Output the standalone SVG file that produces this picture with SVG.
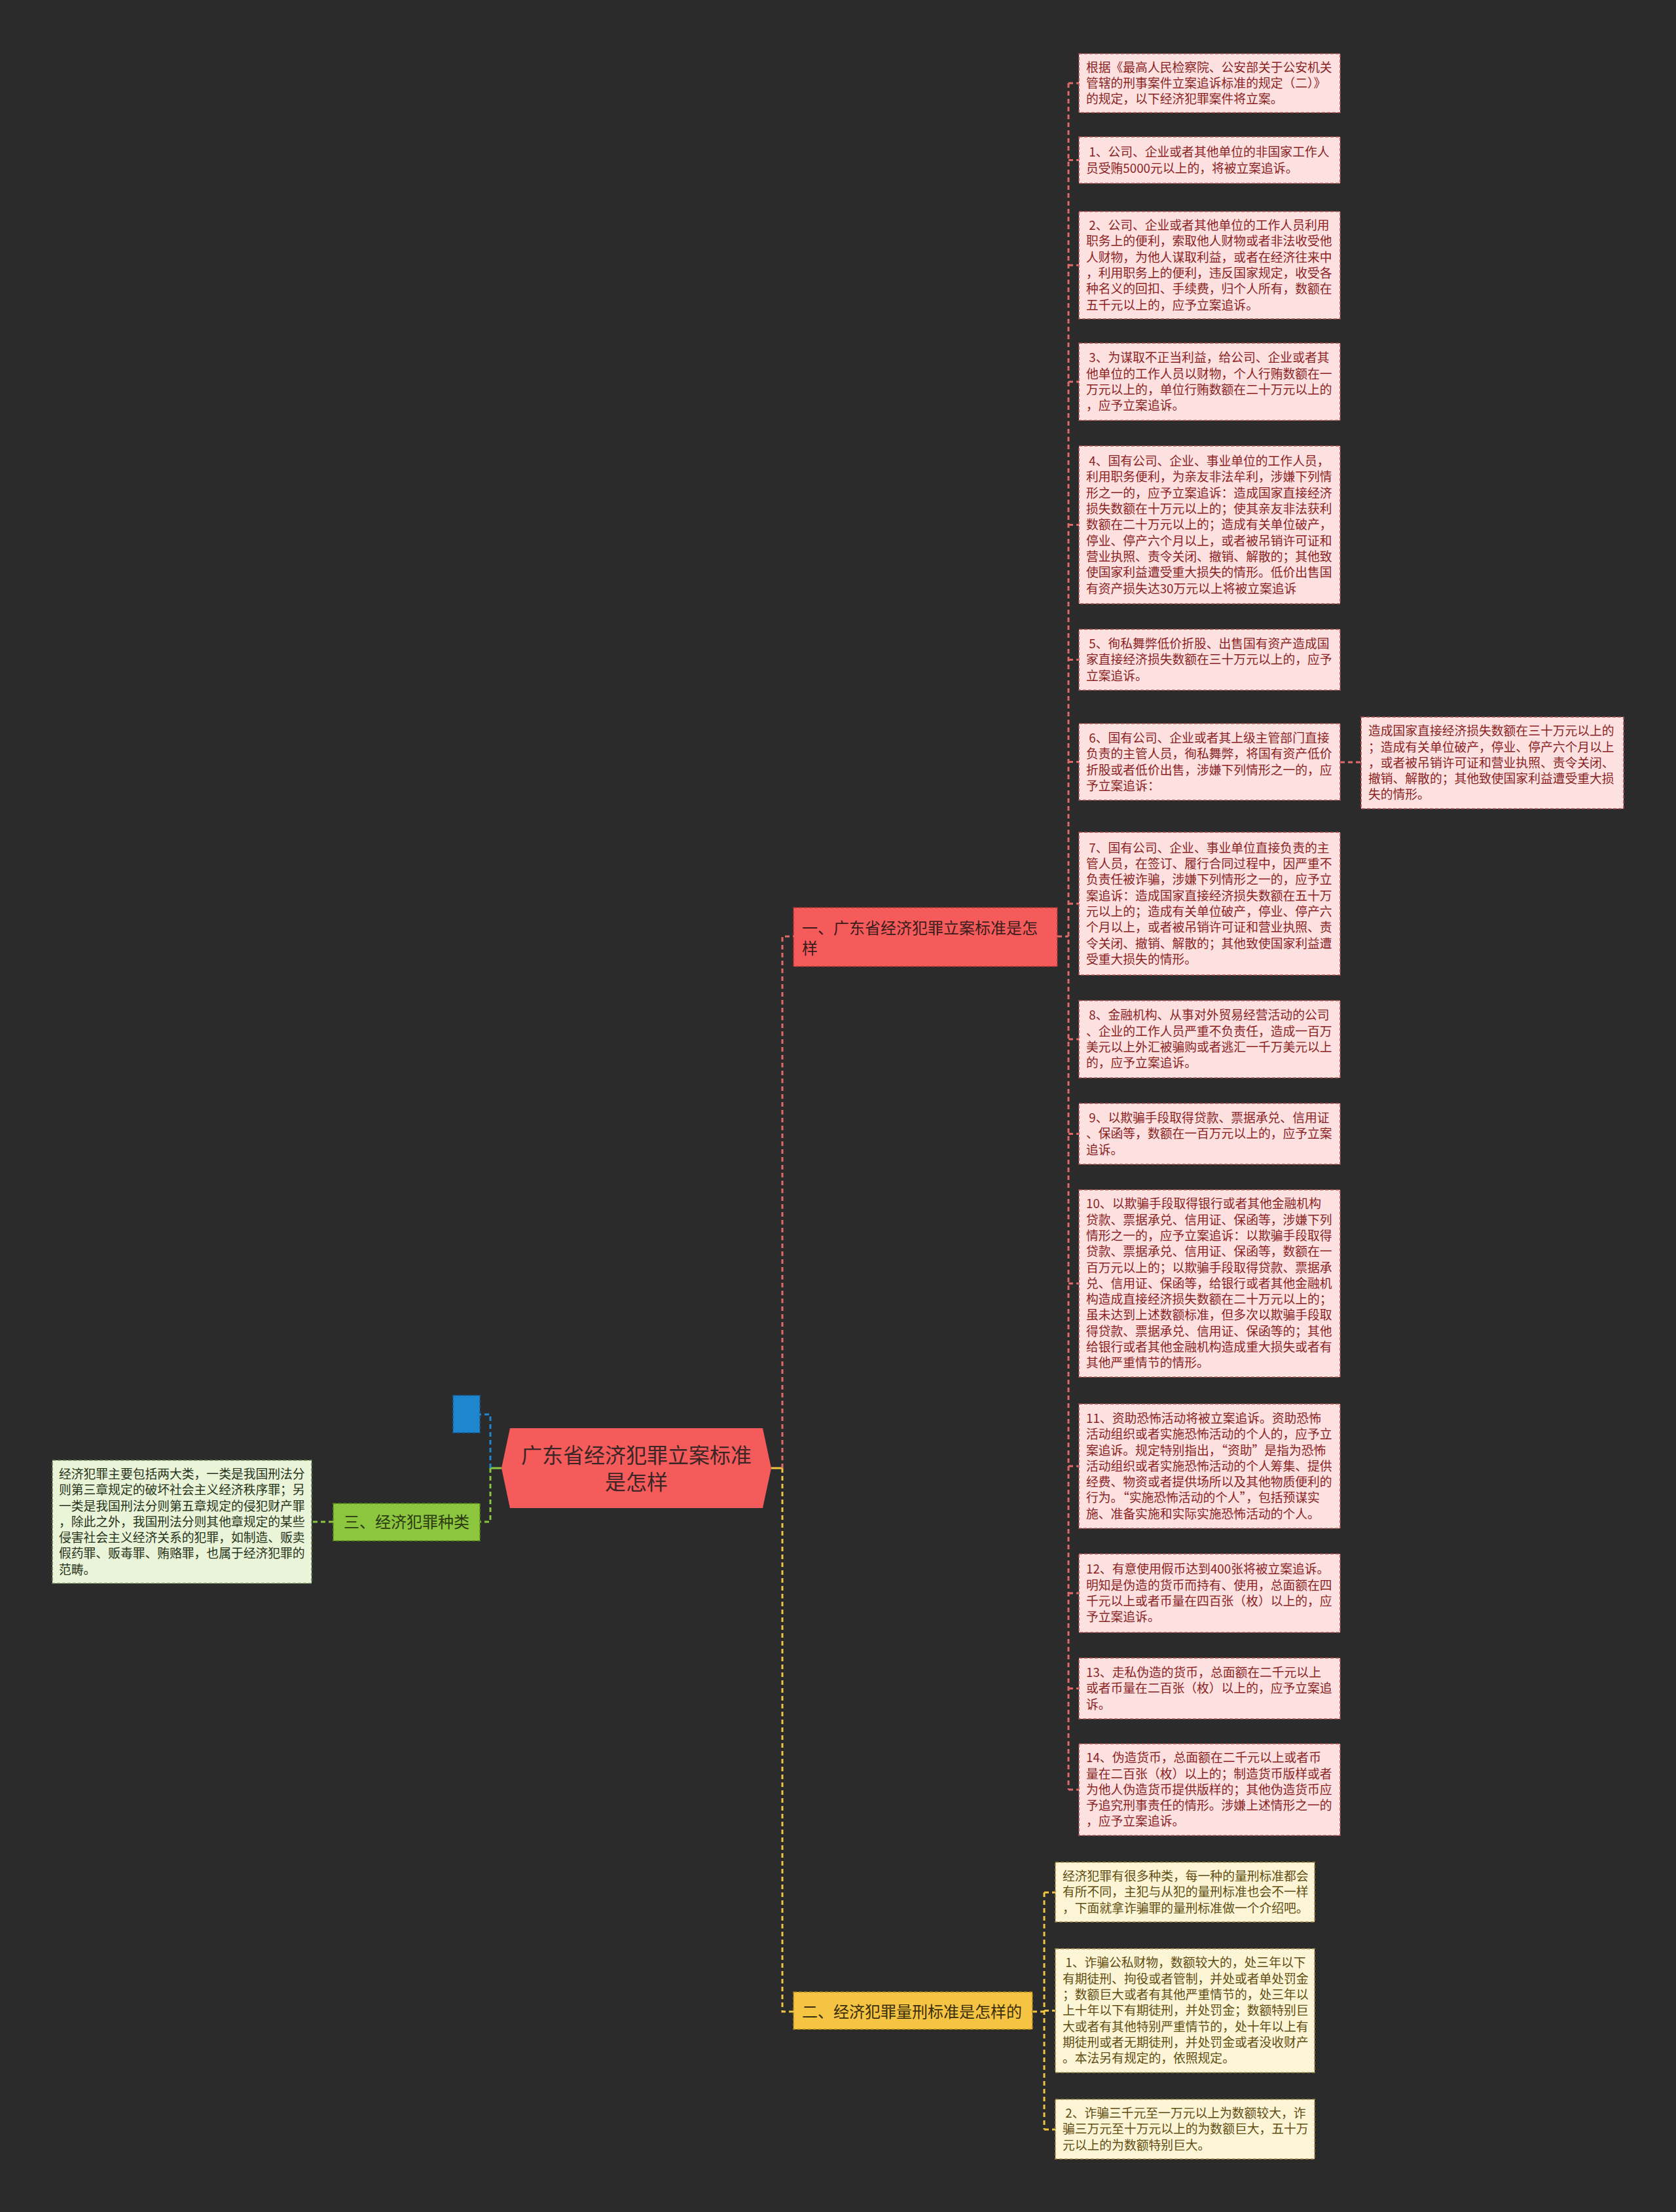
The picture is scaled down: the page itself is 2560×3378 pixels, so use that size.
<svg xmlns="http://www.w3.org/2000/svg" width="2560" height="3378" viewBox="0 0 2560 3378">
<style>
text{font-family:"Noto Sans CJK SC","Noto Sans",sans-serif;}
.pk{fill:#fde1e1;stroke:#b05050;stroke-width:1.6;stroke-dasharray:5 3;}
.pt{font-size:18.8px;fill:#8a1f1f;}
.yk{fill:#fdf6d6;stroke:#a8904a;stroke-width:1.6;stroke-dasharray:5 3;}
.yt{font-size:18.8px;fill:#5e4c12;}
.gk{fill:#e9f4d8;stroke:#6f8450;stroke-width:1.6;stroke-dasharray:5 3;}
.gt{font-size:18.8px;fill:#26331a;}
.lr{stroke:#e06a6a;stroke-width:3;fill:none;stroke-dasharray:7 5;}
.ly{stroke:#f0c440;stroke-width:3;fill:none;stroke-dasharray:7 5;}
.lg{stroke:#8cc63f;stroke-width:3;fill:none;stroke-dasharray:7 5;}
.lb{stroke:#1e88d0;stroke-width:3;fill:none;stroke-dasharray:7 5;}
</style>
<rect x="0" y="0" width="2560" height="3378" fill="#2b2b2b"/>

<g id="connectors">
  <path d="M766,2242 H749" stroke="#8cc63f" stroke-width="3" fill="none"/>
  <path class="lb" d="M749,2242 V2160 H733"/>
  <path class="lg" d="M749,2242 V2324 H733"/>
  <path class="lg" d="M509,2324 H476"/>
  <path d="M1178,2242 H1195" stroke="#f0c440" stroke-width="3" fill="none"/>
  <path class="lr" d="M1195,2242 V1430 H1212"/>
  <path class="ly" d="M1195,2242 V3072 H1212"/>
  <path class="lr" d="M1615,1430 H1632"/>
  <path class="lr" d="M1632,127 V2733"/>
  <path class="lr" d="M1632,127 H1648 M1632,244.5 H1648 M1632,405 H1648 M1632,583 H1648 M1632,801.5 H1648 M1632,1007.5 H1648 M1632,1163.5 H1648 M1632,1380 H1648 M1632,1587 H1648 M1632,1731.5 H1648 M1632,1960 H1648 M1632,2239 H1648 M1632,2433 H1648 M1632,2578.5 H1648 M1632,2733 H1648"/>
  <path class="lr" d="M2047,1164 H2079"/>
  <path class="ly" d="M1577,3072 H1595"/>
  <path class="ly" d="M1595,2890 V3252"/>
  <path class="ly" d="M1595,2890 H1612 M1595,3070.5 H1612 M1595,3252 H1612"/>
</g>

<g id="root">
  <polygon points="766,2242 779,2181 1165,2181 1178,2242 1165,2303 779,2303" fill="#f65b5b"/>
  <text x="972" y="2233.5" font-size="32" fill="#3a2626" text-anchor="middle">广东省经济犯罪立案标准</text>
  <text x="972" y="2274.5" font-size="32" fill="#3a2626" text-anchor="middle">是怎样</text>
</g>

<g id="n-blue">
  <rect x="692" y="2131" width="41" height="57" fill="#1e86cf" stroke="#155f95" stroke-width="1.6" stroke-dasharray="5 3"/>
</g>

<g id="n-three">
  <rect x="509" y="2296" width="224" height="57" fill="#8cc63f" stroke="#5a8a1a" stroke-width="1.6" stroke-dasharray="5 3"/>
  <text x="525" y="2333" font-size="24" fill="#2c3a12">三、经济犯罪种类</text>
</g>

<g id="n-left">
  <rect class="gk" x="80" y="2230" width="396" height="188"/>
  <text class="gt">
    <tspan x="90" y="2257.9">经济犯罪主要包括两大类，一类是我国刑法分</tspan>
    <tspan x="90" y="2282.2">则第三章规定的破坏社会主义经济秩序罪；另</tspan>
    <tspan x="90" y="2306.5">一类是我国刑法分则第五章规定的侵犯财产罪</tspan>
    <tspan x="90" y="2330.8">，除此之外，我国刑法分则其他章规定的某些</tspan>
    <tspan x="90" y="2355.1">侵害社会主义经济关系的犯罪，如制造、贩卖</tspan>
    <tspan x="90" y="2379.4">假药罪、贩毒罪、贿赂罪，也属于经济犯罪的</tspan>
    <tspan x="90" y="2403.7">范畴。</tspan>
  </text>
</g>

<g id="n-one">
  <rect x="1212" y="1386" width="403" height="90" fill="#f65b5b" stroke="#a83232" stroke-width="1.6" stroke-dasharray="5 3"/>
  <text font-size="24" fill="#3a1c1c">
    <tspan x="1225" y="1425.6">一、广东省经济犯罪立案标准是怎</tspan>
    <tspan x="1225" y="1456.6">样</tspan>
  </text>
</g>

<g id="n-two">
  <rect x="1212" y="3042" width="365" height="57" fill="#f6c443" stroke="#a8841a" stroke-width="1.6" stroke-dasharray="5 3"/>
  <text x="1225" y="3080.6" font-size="24" fill="#3a2e0a">二、经济犯罪量刑标准是怎样的</text>
</g>

<g id="p0">
  <rect class="pk" x="1648" y="82" width="399" height="90"/>
  <text class="pt">
    <tspan x="1659" y="109.5">根据《最高人民检察院、公安部关于公安机关</tspan>
    <tspan x="1659" y="133.8">管辖的刑事案件立案追诉标准的规定（二）》</tspan>
    <tspan x="1659" y="158.1">的规定，以下经济犯罪案件将立案。</tspan>
  </text>
</g>

<g id="p1">
  <rect class="pk" x="1648" y="209" width="399" height="71"/>
  <text class="pt">
    <tspan x="1659" y="239.2">&#160;1、公司、企业或者其他单位的非国家工作人</tspan>
    <tspan x="1659" y="263.5">员受贿5000元以上的，将被立案追诉。</tspan>
  </text>
</g>

<g id="p2">
  <rect class="pk" x="1648" y="323" width="399" height="164"/>
  <text class="pt">
    <tspan x="1659" y="351.0">&#160;2、公司、企业或者其他单位的工作人员利用</tspan>
    <tspan x="1659" y="375.3">职务上的便利，索取他人财物或者非法收受他</tspan>
    <tspan x="1659" y="399.6">人财物，为他人谋取利益，或者在经济往来中</tspan>
    <tspan x="1659" y="423.9">，利用职务上的便利，违反国家规定，收受各</tspan>
    <tspan x="1659" y="448.2">种名义的回扣、手续费，归个人所有，数额在</tspan>
    <tspan x="1659" y="472.5">五千元以上的，应予立案追诉。</tspan>
  </text>
</g>

<g id="p3">
  <rect class="pk" x="1648" y="524" width="399" height="118"/>
  <text class="pt">
    <tspan x="1659" y="553.4">&#160;3、为谋取不正当利益，给公司、企业或者其</tspan>
    <tspan x="1659" y="577.7">他单位的工作人员以财物，个人行贿数额在一</tspan>
    <tspan x="1659" y="602.0">万元以上的，单位行贿数额在二十万元以上的</tspan>
    <tspan x="1659" y="626.3">，应予立案追诉。</tspan>
  </text>
</g>

<g id="p4">
  <rect class="pk" x="1648" y="681" width="399" height="241"/>
  <text class="pt">
    <tspan x="1659" y="711.1">&#160;4、国有公司、企业、事业单位的工作人员，</tspan>
    <tspan x="1659" y="735.4">利用职务便利，为亲友非法牟利，涉嫌下列情</tspan>
    <tspan x="1659" y="759.7">形之一的，应予立案追诉：造成国家直接经济</tspan>
    <tspan x="1659" y="784.0">损失数额在十万元以上的；使其亲友非法获利</tspan>
    <tspan x="1659" y="808.3">数额在二十万元以上的；造成有关单位破产，</tspan>
    <tspan x="1659" y="832.6">停业、停产六个月以上，或者被吊销许可证和</tspan>
    <tspan x="1659" y="856.9">营业执照、责令关闭、撤销、解散的；其他致</tspan>
    <tspan x="1659" y="881.2">使国家利益遭受重大损失的情形。低价出售国</tspan>
    <tspan x="1659" y="905.5">有资产损失达30万元以上将被立案追诉</tspan>
  </text>
</g>

<g id="p5">
  <rect class="pk" x="1648" y="961" width="399" height="93"/>
  <text class="pt">
    <tspan x="1659" y="990.0">&#160;5、徇私舞弊低价折股、出售国有资产造成国</tspan>
    <tspan x="1659" y="1014.3">家直接经济损失数额在三十万元以上的，应予</tspan>
    <tspan x="1659" y="1038.6">立案追诉。</tspan>
  </text>
</g>

<g id="p6">
  <rect class="pk" x="1648" y="1105" width="399" height="117"/>
  <text class="pt">
    <tspan x="1659" y="1133.9">&#160;6、国有公司、企业或者其上级主管部门直接</tspan>
    <tspan x="1659" y="1158.2">负责的主管人员，徇私舞弊，将国有资产低价</tspan>
    <tspan x="1659" y="1182.5">折股或者低价出售，涉嫌下列情形之一的，应</tspan>
    <tspan x="1659" y="1206.8">予立案追诉：</tspan>
  </text>
</g>

<g id="p6a">
  <rect class="pk" x="2079" y="1095" width="401" height="140"/>
  <text class="pt">
    <tspan x="2090" y="1123.2">造成国家直接经济损失数额在三十万元以上的</tspan>
    <tspan x="2090" y="1147.5">；造成有关单位破产，停业、停产六个月以上</tspan>
    <tspan x="2090" y="1171.8">，或者被吊销许可证和营业执照、责令关闭、</tspan>
    <tspan x="2090" y="1196.1">撤销、解散的；其他致使国家利益遭受重大损</tspan>
    <tspan x="2090" y="1220.4">失的情形。</tspan>
  </text>
</g>

<g id="p7">
  <rect class="pk" x="1648" y="1271" width="399" height="218"/>
  <text class="pt">
    <tspan x="1659" y="1301.8">&#160;7、国有公司、企业、事业单位直接负责的主</tspan>
    <tspan x="1659" y="1326.1">管人员，在签订、履行合同过程中，因严重不</tspan>
    <tspan x="1659" y="1350.4">负责任被诈骗，涉嫌下列情形之一的，应予立</tspan>
    <tspan x="1659" y="1374.7">案追诉：造成国家直接经济损失数额在五十万</tspan>
    <tspan x="1659" y="1399.0">元以上的；造成有关单位破产，停业、停产六</tspan>
    <tspan x="1659" y="1423.3">个月以上，或者被吊销许可证和营业执照、责</tspan>
    <tspan x="1659" y="1447.6">令关闭、撤销、解散的；其他致使国家利益遭</tspan>
    <tspan x="1659" y="1471.9">受重大损失的情形。</tspan>
  </text>
</g>

<g id="p8">
  <rect class="pk" x="1648" y="1528" width="399" height="118"/>
  <text class="pt">
    <tspan x="1659" y="1557.4">&#160;8、金融机构、从事对外贸易经营活动的公司</tspan>
    <tspan x="1659" y="1581.7">、企业的工作人员严重不负责任，造成一百万</tspan>
    <tspan x="1659" y="1606.0">美元以上外汇被骗购或者逃汇一千万美元以上</tspan>
    <tspan x="1659" y="1630.3">的，应予立案追诉。</tspan>
  </text>
</g>

<g id="p9">
  <rect class="pk" x="1648" y="1685" width="399" height="93"/>
  <text class="pt">
    <tspan x="1659" y="1714.0">&#160;9、以欺骗手段取得贷款、票据承兑、信用证</tspan>
    <tspan x="1659" y="1738.3">、保函等，数额在一百万元以上的，应予立案</tspan>
    <tspan x="1659" y="1762.6">追诉。</tspan>
  </text>
</g>

<g id="p10">
  <rect class="pk" x="1648" y="1817" width="399" height="286"/>
  <text class="pt">
    <tspan x="1659" y="1845.3">10、以欺骗手段取得银行或者其他金融机构</tspan>
    <tspan x="1659" y="1869.6">贷款、票据承兑、信用证、保函等，涉嫌下列</tspan>
    <tspan x="1659" y="1893.9">情形之一的，应予立案追诉：以欺骗手段取得</tspan>
    <tspan x="1659" y="1918.2">贷款、票据承兑、信用证、保函等，数额在一</tspan>
    <tspan x="1659" y="1942.5">百万元以上的；以欺骗手段取得贷款、票据承</tspan>
    <tspan x="1659" y="1966.8">兑、信用证、保函等，给银行或者其他金融机</tspan>
    <tspan x="1659" y="1991.1">构造成直接经济损失数额在二十万元以上的；</tspan>
    <tspan x="1659" y="2015.4">虽未达到上述数额标准，但多次以欺骗手段取</tspan>
    <tspan x="1659" y="2039.7">得贷款、票据承兑、信用证、保函等的；其他</tspan>
    <tspan x="1659" y="2064.0">给银行或者其他金融机构造成重大损失或者有</tspan>
    <tspan x="1659" y="2088.3">其他严重情节的情形。</tspan>
  </text>
</g>

<g id="p11">
  <rect class="pk" x="1648" y="2144" width="399" height="190"/>
  <text class="pt">
    <tspan x="1659" y="2172.9">11、资助恐怖活动将被立案追诉。资助恐怖</tspan>
    <tspan x="1659" y="2197.2">活动组织或者实施恐怖活动的个人的，应予立</tspan>
    <tspan x="1659" y="2221.5">案追诉。规定特别指出，“资助”是指为恐怖</tspan>
    <tspan x="1659" y="2245.8">活动组织或者实施恐怖活动的个人筹集、提供</tspan>
    <tspan x="1659" y="2270.1">经费、物资或者提供场所以及其他物质便利的</tspan>
    <tspan x="1659" y="2294.4">行为。“实施恐怖活动的个人”，包括预谋实</tspan>
    <tspan x="1659" y="2318.7">施、准备实施和实际实施恐怖活动的个人。</tspan>
  </text>
</g>

<g id="p12">
  <rect class="pk" x="1648" y="2373" width="399" height="120"/>
  <text class="pt">
    <tspan x="1659" y="2403.4">12、有意使用假币达到400张将被立案追诉。</tspan>
    <tspan x="1659" y="2427.7">明知是伪造的货币而持有、使用，总面额在四</tspan>
    <tspan x="1659" y="2452.0">千元以上或者币量在四百张（枚）以上的，应</tspan>
    <tspan x="1659" y="2476.3">予立案追诉。</tspan>
  </text>
</g>

<g id="p13">
  <rect class="pk" x="1648" y="2532" width="399" height="93"/>
  <text class="pt">
    <tspan x="1659" y="2561.0">13、走私伪造的货币，总面额在二千元以上</tspan>
    <tspan x="1659" y="2585.3">或者币量在二百张（枚）以上的，应予立案追</tspan>
    <tspan x="1659" y="2609.6">诉。</tspan>
  </text>
</g>

<g id="p14">
  <rect class="pk" x="1648" y="2663" width="399" height="140"/>
  <text class="pt">
    <tspan x="1659" y="2691.2">14、伪造货币，总面额在二千元以上或者币</tspan>
    <tspan x="1659" y="2715.5">量在二百张（枚）以上的；制造货币版样或者</tspan>
    <tspan x="1659" y="2739.8">为他人伪造货币提供版样的；其他伪造货币应</tspan>
    <tspan x="1659" y="2764.1">予追究刑事责任的情形。涉嫌上述情形之一的</tspan>
    <tspan x="1659" y="2788.4">，应予立案追诉。</tspan>
  </text>
</g>

<g id="y0">
  <rect class="yk" x="1612" y="2844" width="396" height="91"/>
  <text class="yt">
    <tspan x="1623" y="2872.0">经济犯罪有很多种类，每一种的量刑标准都会</tspan>
    <tspan x="1623" y="2896.3">有所不同，主犯与从犯的量刑标准也会不一样</tspan>
    <tspan x="1623" y="2920.6">，下面就拿诈骗罪的量刑标准做一个介绍吧。</tspan>
  </text>
</g>

<g id="y1">
  <rect class="yk" x="1612" y="2976" width="396" height="189"/>
  <text class="yt">
    <tspan x="1623" y="3004.4">&#160;1、诈骗公私财物，数额较大的，处三年以下</tspan>
    <tspan x="1623" y="3028.7">有期徒刑、拘役或者管制，并处或者单处罚金</tspan>
    <tspan x="1623" y="3053.0">；数额巨大或者有其他严重情节的，处三年以</tspan>
    <tspan x="1623" y="3077.3">上十年以下有期徒刑，并处罚金；数额特别巨</tspan>
    <tspan x="1623" y="3101.6">大或者有其他特别严重情节的，处十年以上有</tspan>
    <tspan x="1623" y="3125.9">期徒刑或者无期徒刑，并处罚金或者没收财产</tspan>
    <tspan x="1623" y="3150.2">。本法另有规定的，依照规定。</tspan>
  </text>
</g>

<g id="y2">
  <rect class="yk" x="1612" y="3206" width="396" height="91"/>
  <text class="yt">
    <tspan x="1623" y="3234.0">&#160;2、诈骗三千元至一万元以上为数额较大，诈</tspan>
    <tspan x="1623" y="3258.3">骗三万元至十万元以上的为数额巨大，五十万</tspan>
    <tspan x="1623" y="3282.6">元以上的为数额特别巨大。</tspan>
  </text>
</g>
</svg>
